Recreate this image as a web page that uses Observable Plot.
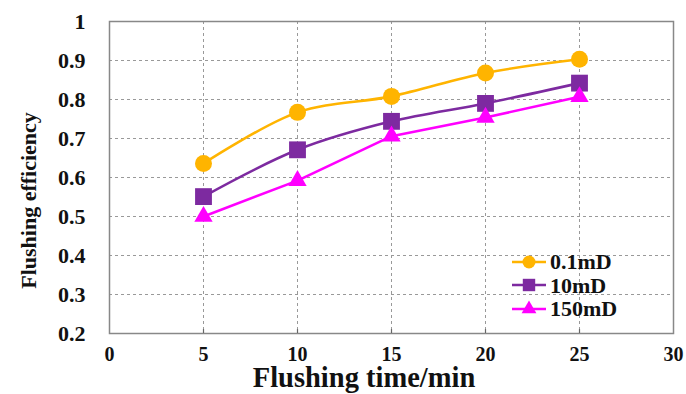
<!DOCTYPE html>
<html>
<head>
<meta charset="utf-8">
<script src="https://cdn.jsdelivr.net/npm/d3@7"></script>
<script src="https://cdn.jsdelivr.net/npm/@observablehq/plot@0.6"></script>
<style>
  html, body { margin: 0; padding: 0; background: #fff; }
  #wrap { position: relative; width: 686px; height: 394px; font-family: "Liberation Serif", "Times New Roman", serif; font-weight: bold; }
  #wrap svg text { font-family: "Liberation Serif", "Times New Roman", serif !important; font-weight: bold !important; font-variant-numeric: normal; }
  #legend { position: absolute; left: 511px; top: 250px; font-size: 22px; line-height: 23.5px; color: #111; }
  #legend .row { display: flex; align-items: center; height: 23.5px; }
  #legend svg { margin-right: 3px; }
  #xtitle { position: absolute; left: 0; width: 728px; text-align: center; top: 365px; font-size: 28.5px; line-height: 26px; color: #111; }
</style>
</head>
<body>
<div id="wrap"></div>
<script>
const times = [5, 10, 15, 20, 25];
const series = ["0.1mD", "10mD", "150mD"];
const eff01 = [0.636, 0.767, 0.808, 0.868, 0.903];
const eff10 = [0.551, 0.671, 0.744, 0.790, 0.842];
const eff150 = [0.500, 0.592, 0.706, 0.754, 0.807];
const colors = ["#FFB400", "#7D2AA0", "#FF00FF"];
const symbols = ["circle", "square", "triangle"];
const xTicks = [0, 5, 10, 15, 20, 25, 30];
const yTicks = [0.2, 0.3, 0.4, 0.5, 0.6, 0.7, 0.8, 0.9, 1];
const xTitle = "Flushing time/min";
const yTitle = "Flushing efficiency";

const values = [eff01, eff10, eff150];
const data = series.flatMap((s, i) => times.map((t, j) => ({series: s, time: t, eff: values[i][j]})));

const sizes = {"0.1mD": 8.5, "10mD": 9.5, "150mD": 6.8};
const curves = {"0.1mD": "catmull-rom", "10mD": "catmull-rom", "150mD": "linear"};
const font = "'Liberation Serif', 'Times New Roman', serif";

const marks = [
  Plot.gridX(xTicks.slice(1, -1), {stroke: "#999", strokeOpacity: 1, strokeDasharray: "3,3", strokeWidth: 1}),
  Plot.gridY(yTicks.slice(1, -1), {stroke: "#999", strokeOpacity: 1, strokeDasharray: "3,3", strokeWidth: 1}),
  Plot.frame({stroke: "#888", strokeWidth: 1.5}),
  Plot.ruleX(xTicks.slice(1, -1), {x: d => d, y1: () => 0.2, y2: () => 0.21, stroke: "#666", strokeWidth: 1.2}),
  Plot.text(xTicks, {x: d => d, frameAnchor: "bottom", dy: 21, lineAnchor: "middle", text: d => String(d), fontSize: 20, fontWeight: "bold", fontFamily: font, fill: "#111"}),
  Plot.text(yTicks, {y: d => d, frameAnchor: "left", textAnchor: "end", dx: -24, lineAnchor: "middle", text: d => String(d), fontSize: 22, fontWeight: "bold", fontFamily: font, fill: "#111"}),
];
series.forEach((s, i) => {
  const d = data.filter(r => r.series === s);
  marks.push(Plot.line(d, {x: "time", y: "eff", stroke: colors[i], strokeWidth: 2.6, curve: curves[s]}));
});
series.forEach((s, i) => {
  const d = data.filter(r => r.series === s);
  marks.push(Plot.dot(d, {x: "time", y: "eff", fill: colors[i], stroke: "none", symbol: symbols[i], r: sizes[s]}));
});
marks.push(Plot.text([yTitle], {frameAnchor: "left", textAnchor: "middle", dx: -81, dy: 23, rotate: -90, fontSize: 22, fontWeight: "bold", fontFamily: font, fill: "#111"}));

const chart = Plot.plot({
  width: 686,
  height: 394,
  marginLeft: 109,
  marginRight: 13,
  marginTop: 21,
  marginBottom: 61,
  style: {fontFamily: font, fontWeight: "bold", background: "#fff", overflow: "visible"},
  x: {domain: [0, 30], axis: null},
  y: {domain: [0.2, 1], axis: null},
  marks
});
const wrap = document.getElementById("wrap");
wrap.appendChild(chart);

const textSizes = ["20px", "22px", "22px"];
chart.querySelectorAll("g[aria-label='text']").forEach((g, i) => {
  g.style.fontSize = textSizes[i] || "22px";
  g.style.fontWeight = "bold";
  g.style.fontFamily = font;
  g.querySelectorAll("text").forEach(t => { t.style.fontSize = textSizes[i] || "22px"; });
});

const xt = document.createElement("div");
xt.id = "xtitle";
xt.textContent = xTitle;
wrap.appendChild(xt);

const leg = document.createElement("div");
leg.id = "legend";
const ns = "http://www.w3.org/2000/svg";
series.forEach((s, i) => {
  const row = document.createElement("div");
  row.className = "row";
  const svg = document.createElementNS(ns, "svg");
  svg.setAttribute("width", 36); svg.setAttribute("height", 20);
  const line = document.createElementNS(ns, "line");
  line.setAttribute("x1", 1); line.setAttribute("x2", 35); line.setAttribute("y1", 10); line.setAttribute("y2", 10);
  line.setAttribute("stroke", colors[i]); line.setAttribute("stroke-width", 2.6);
  svg.appendChild(line);
  const p = document.createElementNS(ns, "path");
  const sym = {circle: d3.symbolCircle, square: d3.symbolSquare, triangle: d3.symbolTriangle}[symbols[i]];
  const r = [6.5, 7, 5.5][i];
  p.setAttribute("d", d3.symbol(sym, Math.PI * r * r)());
  p.setAttribute("transform", "translate(18,10)");
  p.setAttribute("fill", colors[i]);
  svg.appendChild(p);
  row.appendChild(svg);
  const t = document.createElement("span");
  t.textContent = s;
  row.appendChild(t);
  leg.appendChild(row);
});
wrap.appendChild(leg);
</script>
</body>
</html>
